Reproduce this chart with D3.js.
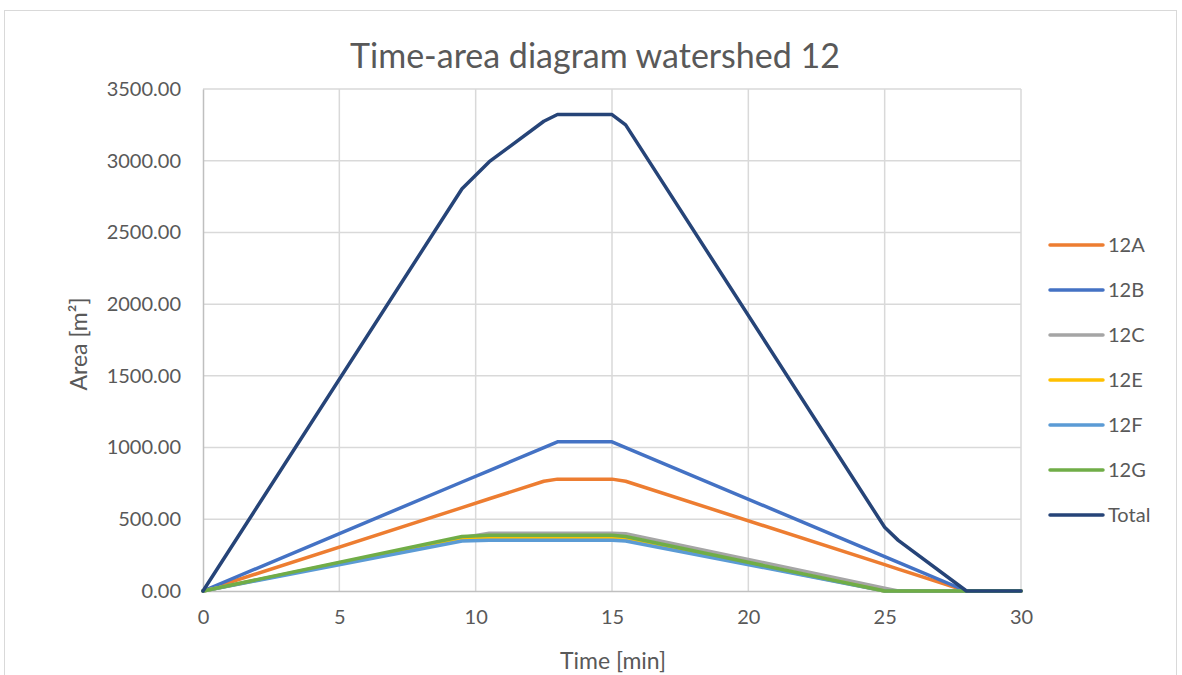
<!DOCTYPE html>
<html>
<head>
<meta charset="utf-8">
<script src="https://cdn.jsdelivr.net/npm/d3@7"></script>
<style>
  html, body { margin: 0; padding: 0; background: #fff; }
  svg { display: block; }
  text { font-family: Lato, "Open Sans", sans-serif; fill: #595959; }
</style>
</head>
<body>
<svg id="chart" width="1182" height="675"></svg>
<script>
// ---- data ----
const times  = [0, 9.5, 10.5, 12.5, 13, 15, 15.5, 25, 25.5, 28, 30];
const s12A   = [0, 581, 643, 765, 780, 780, 765, 184, 153, 0, 0];
const s12B   = [0, 760, 840, 1000, 1040, 1040, 1000, 240, 200, 0, 0];
const s12C   = [0, 372, 402, 402, 402, 402, 400, 20, 0, 0, 0];
const s12E   = [0, 363, 367, 367, 367, 367, 363, 0, 0, 0, 0];
const s12F   = [0, 349, 353, 353, 353, 353, 349, 0, 0, 0, 0];
const s12G   = [0, 380, 388, 388, 388, 388, 380, 0, 0, 0, 0];
const sTotal = [0, 2805, 2993, 3275, 3322, 3322, 3250, 444, 353, 0, 0];
const seriesNames = ["12A", "12B", "12C", "12E", "12F", "12G", "Total"];
const seriesValues = [s12A, s12B, s12C, s12E, s12F, s12G, sTotal];
const colors = ["#ED7D31", "#4472C4", "#A5A5A5", "#FFC000", "#5B9BD5", "#70AD47", "#264478"];
const xTicks = [0, 5, 10, 15, 20, 25, 30];
const yTicks = [0, 500, 1000, 1500, 2000, 2500, 3000, 3500];
const title = "Time-area diagram watershed 12";
const xTitle = "Time [min]";
const yTitle = "Area [m²]";

// ---- layout ----
const svg = d3.select("#chart");
const L = 203, R = 1021, T = 89, B = 591;
const x = d3.scaleLinear().domain([0, 30]).range([L, R]);
const y = d3.scaleLinear().domain([0, 3500]).range([B, T]);

// outer border
svg.append("rect").attr("x", 4.5).attr("y", 10.5).attr("width", 1172).attr("height", 680)
  .attr("fill", "none").attr("stroke", "#d9d9d9").attr("stroke-width", 1);

// gridlines
svg.append("g").selectAll("line").data(yTicks.filter(d => d > 0)).join("line")
  .attr("x1", L).attr("x2", R).attr("y1", d => y(d)).attr("y2", d => y(d))
  .attr("stroke", "#d9d9d9").attr("stroke-width", 1.5);
svg.append("g").selectAll("line").data(xTicks.filter(d => d > 0)).join("line")
  .attr("x1", d => x(d)).attr("x2", d => x(d)).attr("y1", T).attr("y2", B)
  .attr("stroke", "#d9d9d9").attr("stroke-width", 1.5);

// axes
const xAxis = d3.axisBottom(x).tickValues(xTicks).tickSize(0).tickPadding(19).tickFormat(d3.format("d"));
const gx = svg.append("g").attr("transform", `translate(0,${B})`).call(xAxis);
gx.select(".domain").attr("stroke", "#bfbfbf").attr("stroke-width", 1.5);
gx.selectAll("text").style("font-size", "20px").attr("fill", "#595959");

const yAxis = d3.axisLeft(y).tickValues(yTicks).tickSize(0).tickPadding(22).tickFormat(d3.format(".2f"));
const gy = svg.append("g").attr("transform", `translate(${L},0)`).call(yAxis);
gy.select(".domain").attr("stroke", "#bfbfbf").attr("stroke-width", 1.5);
gy.selectAll("text").style("font-size", "20px").attr("fill", "#595959");

// lines
const line = d3.line().x((d, i) => x(times[i])).y(d => y(d));
seriesValues.forEach((vals, k) => {
  svg.append("path").datum(vals).attr("d", line)
    .attr("fill", "none").attr("stroke", colors[k]).attr("stroke-width", 3.5)
    .attr("stroke-linejoin", "round").attr("stroke-linecap", "round");
});

// title
svg.append("text").attr("x", 595).attr("y", 68).attr("text-anchor", "middle")
  .style("font-size", "34px").text(title);
// axis titles
svg.append("text").attr("x", 613).attr("y", 669).attr("text-anchor", "middle")
  .style("font-size", "23px").text(xTitle);
svg.append("text").attr("transform", "translate(87,344) rotate(-90)").attr("text-anchor", "middle")
  .style("font-size", "23px").text(yTitle);

// legend
const lg = svg.append("g");
seriesNames.forEach((name, k) => {
  const yy = 245 + k * 45;
  lg.append("line").attr("x1", 1050).attr("x2", 1103).attr("y1", yy).attr("y2", yy)
    .attr("stroke", colors[k]).attr("stroke-width", 3.5).attr("stroke-linecap", "round");
  lg.append("text").attr("x", 1108).attr("y", yy).attr("dy", "0.35em")
    .style("font-size", "20px").text(name);
});
</script>
</body>
</html>
